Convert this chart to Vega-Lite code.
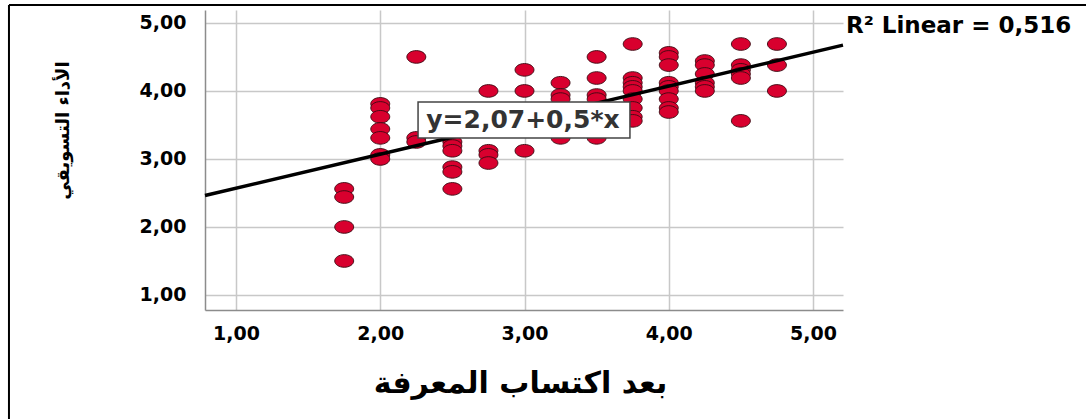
{
  "$schema": "https://vega.github.io/schema/vega-lite/v6.json",
  "width": 638,
  "height": 300,
  "autosize": {"type": "none"},
  "padding": {"left": 205, "top": 10, "right": 243, "bottom": 109},
  "background": "white",
  "config": {
    "view": {"stroke": null},
    "font": "DejaVu Sans"
  },
  "layer": [
    {
      "data": {
        "values": [
          {"k": 1.75, "p": 2.56}, {"k": 1.75, "p": 2.44}, {"k": 1.75, "p": 2.0}, {"k": 1.75, "p": 1.5},
          {"k": 2.0, "p": 3.81}, {"k": 2.0, "p": 3.75}, {"k": 2.0, "p": 3.62}, {"k": 2.0, "p": 3.44}, {"k": 2.0, "p": 3.31}, {"k": 2.0, "p": 3.06}, {"k": 2.0, "p": 3.0},
          {"k": 2.25, "p": 4.5}, {"k": 2.25, "p": 3.31}, {"k": 2.25, "p": 3.25},
          {"k": 2.5, "p": 3.25}, {"k": 2.5, "p": 3.19}, {"k": 2.5, "p": 3.12}, {"k": 2.5, "p": 2.88}, {"k": 2.5, "p": 2.81}, {"k": 2.5, "p": 2.56},
          {"k": 2.75, "p": 4.0}, {"k": 2.75, "p": 3.12}, {"k": 2.75, "p": 3.06}, {"k": 2.75, "p": 2.94},
          {"k": 3.0, "p": 4.31}, {"k": 3.0, "p": 4.0}, {"k": 3.0, "p": 3.5}, {"k": 3.0, "p": 3.12},
          {"k": 3.25, "p": 4.12}, {"k": 3.25, "p": 3.94}, {"k": 3.25, "p": 3.88}, {"k": 3.25, "p": 3.62}, {"k": 3.25, "p": 3.31},
          {"k": 3.5, "p": 4.5}, {"k": 3.5, "p": 4.19}, {"k": 3.5, "p": 3.94}, {"k": 3.5, "p": 3.88}, {"k": 3.5, "p": 3.31},
          {"k": 3.75, "p": 4.69}, {"k": 3.75, "p": 4.19}, {"k": 3.75, "p": 4.12}, {"k": 3.75, "p": 4.06}, {"k": 3.75, "p": 4.0}, {"k": 3.75, "p": 3.88}, {"k": 3.75, "p": 3.75}, {"k": 3.75, "p": 3.62}, {"k": 3.75, "p": 3.56},
          {"k": 4.0, "p": 4.56}, {"k": 4.0, "p": 4.5}, {"k": 4.0, "p": 4.38}, {"k": 4.0, "p": 4.12}, {"k": 4.0, "p": 4.06}, {"k": 4.0, "p": 4.0}, {"k": 4.0, "p": 3.88}, {"k": 4.0, "p": 3.75}, {"k": 4.0, "p": 3.69},
          {"k": 4.25, "p": 4.44}, {"k": 4.25, "p": 4.38}, {"k": 4.25, "p": 4.25}, {"k": 4.25, "p": 4.12}, {"k": 4.25, "p": 4.06}, {"k": 4.25, "p": 4.0},
          {"k": 4.5, "p": 4.69}, {"k": 4.5, "p": 4.38}, {"k": 4.5, "p": 4.31}, {"k": 4.5, "p": 4.25}, {"k": 4.5, "p": 4.19}, {"k": 4.5, "p": 3.56},
          {"k": 4.75, "p": 4.69}, {"k": 4.75, "p": 4.38}, {"k": 4.75, "p": 4.0}
        ]
      },
      "mark": {
        "type": "point",
        "filled": true,
        "shape": "M-1.5,0A1.5,1,0,1,0,1.5,0A1.5,1,0,1,0,-1.5,0Z",
        "size": 160,
        "fill": "#d8002e",
        "stroke": "#3a0a12",
        "strokeWidth": 0.9,
        "opacity": 1
      },
      "encoding": {
        "x": {
          "field": "k",
          "type": "quantitative",
          "scale": {"domain": [0.785, 5.208], "nice": false, "zero": false},
          "axis": {
            "grid": true,
            "values": [1, 2, 3, 4, 5],
            "labelExpr": "replace(format(datum.value, '.2f'), '.', ',')",
            "title": "بعد اكتساب المعرفة",
            "titleFont": "DejaVu Sans",
            "titleFontSize": 30,
            "titleFontWeight": "bold",
            "titleColor": "black",
            "titleX": 315,
            "titleY": 73,
            "titleBaseline": "middle",
            "titleAnchor": null,
            "titleAlign": "center",
            "labelFont": "DejaVu Sans",
            "labelFontSize": 19,
            "labelFontWeight": "bold",
            "labelColor": "black",
            "labelPadding": 14,
            "labelBaseline": "top",
            "tickSize": 0,
            "domainColor": "#8c8c8c",
            "domainWidth": 1.5,
            "gridColor": "#c8c8c8",
            "gridWidth": 1.5
          }
        },
        "y": {
          "field": "p",
          "type": "quantitative",
          "scale": {"domain": [0.779, 5.19], "nice": false, "zero": false},
          "axis": {
            "grid": true,
            "values": [1, 2, 3, 4, 5],
            "labelExpr": "replace(format(datum.value, '.2f'), '.', ',')",
            "title": "الأداء التسويقي",
            "titleFont": "DejaVu Sans",
            "titleFontSize": 18,
            "titleFontWeight": "bold",
            "titleColor": "black",
            "titleAngle": -90,
            "titleX": -142,
            "titleY": 120,
            "titleBaseline": "middle",
            "titleAlign": "center",
            "labelFont": "DejaVu Sans",
            "labelFontSize": 19,
            "labelFontWeight": "bold",
            "labelColor": "black",
            "labelPadding": 19,
            "tickSize": 0,
            "domainColor": "#8c8c8c",
            "domainWidth": 1.5,
            "gridColor": "#c8c8c8",
            "gridWidth": 1.5
          }
        }
      }
    },
    {
      "data": {"values": [{}]},
      "mark": {"type": "rule", "color": "black", "strokeWidth": 2},
      "encoding": {
        "x": {"datum": -0.574, "type": "quantitative"},
        "x2": {"datum": 6.9},
        "y": {"datum": 5.264, "type": "quantitative"}
      }
    },
    {
      "data": {"values": [{}]},
      "mark": {"type": "rule", "color": "black", "strokeWidth": 2},
      "encoding": {
        "x": {"datum": -0.574, "type": "quantitative"},
        "y": {"datum": 5.264, "type": "quantitative"},
        "y2": {"datum": -0.83}
      }
    },
    {
      "data": {"values": [{"k": 0.785, "p": 2.4625}, {"k": 5.208, "p": 4.674}]},
      "mark": {"type": "line", "color": "black", "strokeWidth": 3.5},
      "encoding": {
        "x": {"field": "k", "type": "quantitative"},
        "y": {"field": "p", "type": "quantitative"}
      }
    },
    {
      "data": {"values": [{}]},
      "mark": {"type": "rect", "fill": "white", "stroke": "#444444", "strokeWidth": 1.5},
      "encoding": {
        "x": {"datum": 2.262, "type": "quantitative"},
        "x2": {"datum": 3.731},
        "y": {"datum": 3.837, "type": "quantitative"},
        "y2": {"datum": 3.308}
      }
    },
    {
      "data": {"values": [{"t": "y=2,07+0,5*x"}]},
      "mark": {"type": "text", "font": "DejaVu Sans", "fontWeight": "bold", "fontSize": 25, "color": "#333333", "align": "center", "baseline": "middle"},
      "encoding": {
        "x": {"datum": 2.989, "type": "quantitative"},
        "y": {"datum": 3.572, "type": "quantitative"},
        "text": {"field": "t"}
      }
    },
    {
      "data": {"values": [{"t": "R² Linear = 0,516"}]},
      "mark": {"type": "text", "font": "DejaVu Sans", "fontWeight": "bold", "fontSize": 23, "color": "black", "align": "left", "baseline": "middle", "dx": 3},
      "encoding": {
        "x": {"datum": 5.208, "type": "quantitative"},
        "y": {"datum": 4.955, "type": "quantitative"},
        "text": {"field": "t"}
      }
    }
  ]
}
